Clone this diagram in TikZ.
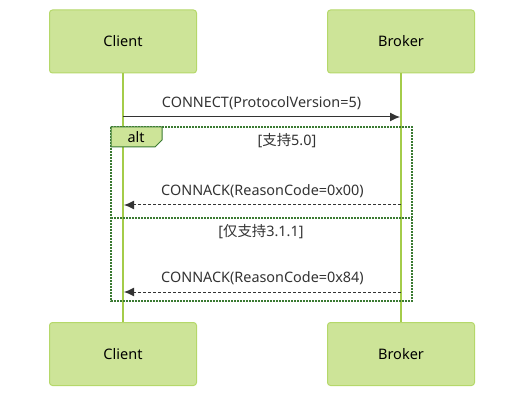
\documentclass[tikz,border=0pt]{standalone}
\usepackage{fontspec}
\usetikzlibrary{arrows.meta}
\setmainfont{Noto Sans}
\newfontfamily\cjk{Noto Sans CJK SC}
\definecolor{actfill}{HTML}{CDE498}
\definecolor{actline}{HTML}{B5D86A}
\definecolor{lifeline}{HTML}{A4CC4A}
\definecolor{altline}{HTML}{3A7A32}
\definecolor{msgcol}{HTML}{333333}
\begin{document}
\begin{tikzpicture}[x=1pt,y=-1pt,
  actor/.style={draw=actline,fill=actfill,line width=1pt,rounded corners=3pt,minimum width=147pt,minimum height=63pt,font=\fontsize{14.5}{16}\selectfont,text=black},
  life/.style={draw=lifeline,line width=1.5pt},
  msg/.style={draw=msgcol,line width=1pt,-{Latex[length=10pt,width=9pt]}},
  reply/.style={msg,dashed,dash pattern=on 3pt off 2pt},
  lbl/.style={font=\fontsize{14.4}{16}\selectfont,text=msgcol,inner sep=0pt},
  altbox/.style={draw=altline,line width=1.6pt,dash pattern=on 1.6pt off 1.4pt}
]
\useasboundingbox (0,0) rectangle (532,403);
\node[actor] (ct) at (123,41.5) {Client};
\node[actor] (bt) at (401,41.5) {Broker};
\node[actor] (cb) at (123,354) {Client};
\node[actor] (bb) at (401,354) {Broker};
\draw[life] (ct.south) -- (cb.north);
\draw[life] (bt.south) -- (bb.north);
% alt frame
\draw[altbox] (111,127) rectangle (412,301);
\draw[altbox] (111,218) -- (412,218);
\draw[draw=altline,fill=actfill,line width=1pt] (111,127) -- (162,127) -- (162,140) -- (155,147) -- (111,147) -- cycle;
\node[lbl,text=black] (alt) at (136,137.5) {alt};
\node[lbl] (g1) at (287,141) {[{\cjk 支持}5.0]};
\node[lbl] (g2) at (261,232) {[{\cjk 仅支持}3.1.1]};
% messages
\coordinate (m1a) at (123,117);
\coordinate (m1b) at (400,117);
\draw[msg] (m1a) -- node[lbl,above=7pt] (t1) {CONNECT(ProtocolVersion=5)} (m1b);
\coordinate (m2a) at (401,205);
\coordinate (m2b) at (124,205);
\draw[reply] (m2a) -- node[lbl,above=7pt] (t2) {CONNACK(ReasonCode=0x00)} (m2b);
\coordinate (m3a) at (401,292);
\coordinate (m3b) at (124,292);
\draw[reply] (m3a) -- node[lbl,above=7pt] (t3) {CONNACK(ReasonCode=0x84)} (m3b);
\end{tikzpicture}
\end{document}
